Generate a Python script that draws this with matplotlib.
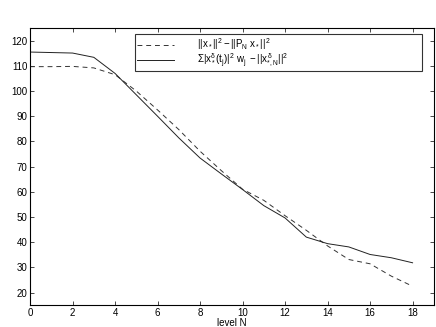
import matplotlib
matplotlib.use("Agg")
import matplotlib.pyplot as plt

plt.rcParams['font.family'] = ['Liberation Sans', 'DejaVu Sans']
plt.rcParams['mathtext.fontset'] = 'custom'
plt.rcParams['mathtext.rm'] = 'Liberation Sans'
plt.rcParams['mathtext.it'] = 'Liberation Sans'
plt.rcParams['mathtext.bf'] = 'Liberation Sans'

# levels N
levels = [0, 1, 2, 3, 4, 5, 6, 7, 8, 9, 10, 11, 12, 13, 14, 15, 16, 17, 18]
# ||x*||^2 - ||P_N x*||^2  (dashed)
proj_err = [109.7, 109.7, 109.8, 109.2, 106.5, 100.0, 92.5, 84.7, 76.1, 68.4,
            61.0, 56.6, 50.5, 44.7, 38.5, 33.1, 31.4, 26.5, 22.5]
# sum |x*^d(t_j)|^2 w_j - ||x^d_{*,N}||^2  (solid)
quad_err = [115.5, 115.3, 115.1, 113.4, 107.0, 98.5, 90.0, 81.4, 73.4, 67.1,
            60.9, 54.5, 49.6, 42.0, 39.4, 38.1, 35.1, 33.8, 31.8]

fig = plt.figure(figsize=(4.36, 3.27), dpi=100)
ax = fig.add_axes([0.069, 0.067, 0.926, 0.847])

ax.plot(levels, proj_err, color='#333333', lw=0.7, ls=(0, (5, 4)),
        label=r'$||x_*||^2 - ||P_N\ x_*||^2$')
ax.plot(levels, quad_err, color='#222222', lw=0.7,
        label=r'$\Sigma|x_*^\delta(t_j)|^2\ w_j\ - ||x^\delta_{*,N}||^2$')

ax.set_xlim(0, 19)
ax.set_ylim(15, 125)
ax.set_xticks(range(0, 19, 2))
ax.set_yticks(range(20, 121, 10))
ax.tick_params(direction='in', length=3, width=0.5, labelsize=7,
               top=True, right=True, pad=2)
for s in ax.spines.values():
    s.set_linewidth(0.8)
ax.set_xlabel('level N', fontsize=7, labelpad=0)

leg = ax.legend(loc='upper left', bbox_to_anchor=(0.26, 0.978, 0.711, 0.0),
                mode='expand', fontsize=7, frameon=True, fancybox=False,
                edgecolor='black', handlelength=3.8, handletextpad=2.4,
                borderpad=0.2, labelspacing=0.0, borderaxespad=0)
leg.get_frame().set_linewidth(0.8)

fig.savefig('out.png', dpi=100)
